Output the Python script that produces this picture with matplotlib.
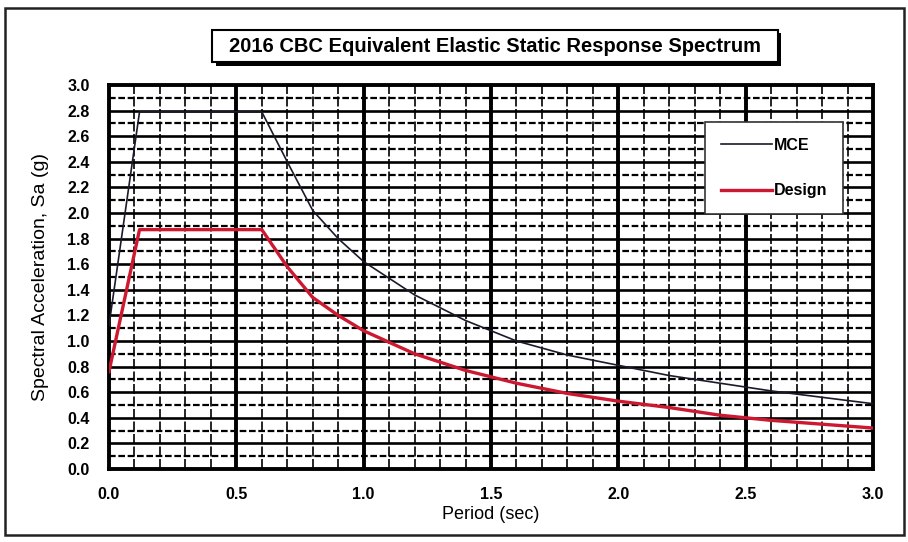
import matplotlib
matplotlib.use('Agg')
import matplotlib.pyplot as plt
from matplotlib.patches import Rectangle

# Data
period = [0.0, 0.12, 0.6, 0.7, 0.8, 0.9, 1.0, 1.2, 1.4, 1.6, 1.8, 2.0, 2.2, 2.4, 2.6, 2.8, 3.0]
mce = [1.12, 2.79, 2.79, 2.40, 2.02, 1.80, 1.62, 1.36, 1.16, 1.00, 0.89, 0.81, 0.73, 0.67, 0.61, 0.56, 0.51]
design = [0.76, 1.87, 1.87, 1.58, 1.34, 1.20, 1.08, 0.90, 0.77, 0.67, 0.59, 0.53, 0.48, 0.42, 0.38, 0.35, 0.32]

x_ticks = [0.0, 0.5, 1.0, 1.5, 2.0, 2.5, 3.0]
y_ticks = [round(0.2 * i, 1) for i in range(16)]

TITLE = '2016 CBC Equivalent Elastic Static Response Spectrum'
FONT = 'Liberation Sans'

plt.rcParams['font.family'] = FONT

fig = plt.figure(figsize=(9.08, 5.42), dpi=100)
ax = fig.add_axes([0.120, 0.1347, 0.8415, 0.7085])

# grid: horizontal every 0.1, verticals every 0.1 with heavy ones at 0.5
for i in range(1, 30):
    y = i * 0.1
    if i % 2:
        ax.axhline(y, color='black', lw=1.6, ls=(0, (3, 1.2)), zorder=1)
    else:
        ax.axhline(y, color='black', lw=1.9, zorder=1)
for i in range(1, 30):
    x = i * 0.1
    if i % 5 == 0:
        ax.axvline(x, color='black', lw=2.8, zorder=1)
    else:
        ax.axvline(x, color='black', lw=1.2, ls=(0, (6, 1.5)), zorder=1)

ax.plot(period, mce, color='#1a1a2a', lw=1.2, label='MCE', zorder=3)
ax.plot(period, design, color='#cc1830', lw=2.4, label='Design', zorder=3)

ax.set_xlim(0, 3.0)
ax.set_ylim(0, 3.0)
ax.set_xticks(x_ticks)
ax.set_xticklabels([f'{v:.1f}' for v in x_ticks])
ax.set_yticks(y_ticks)
ax.set_yticklabels([f'{v:.1f}' for v in y_ticks])
ax.tick_params(length=0, labelsize=11.5)
ax.tick_params(axis='x', pad=13)
ax.tick_params(axis='y', pad=14)
for lbl in ax.get_xticklabels() + ax.get_yticklabels():
    lbl.set_fontweight('bold')
for s in ax.spines.values():
    s.set_linewidth(2.8)

ax.set_xlabel('Period (sec)', fontsize=13, labelpad=3)
ax.set_ylabel('Spectral Acceleration, Sa (g)', fontsize=14, labelpad=13)

leg = ax.legend(loc='upper right', bbox_to_anchor=(0.961, 0.904), frameon=True,
                fancybox=False, edgecolor='#333333', framealpha=1,
                prop={'family': FONT, 'weight': 'bold', 'size': 11.5},
                handlelength=3.2, handletextpad=0.1, labelspacing=1.9,
                borderpad=1.0, borderaxespad=0)
leg.get_frame().set_linewidth(1.2)
leg.set_zorder(5)

# title box with drop shadow
fig.patches.append(Rectangle((0.2375, 0.879), 0.623, 0.060, transform=fig.transFigure,
                             facecolor='black', edgecolor='none', zorder=1))
fig.patches.append(Rectangle((0.2335, 0.8856), 0.623, 0.059, transform=fig.transFigure,
                             facecolor='white', edgecolor='black', lw=1.5, zorder=2))
fig.text(0.545, 0.915, TITLE, ha='center', va='center', fontsize=14.5,
         fontweight='bold', zorder=3)

# outer frame of the scanned page
fig.patches.append(Rectangle((0.006, 0.013), 0.99, 0.972, transform=fig.transFigure,
                             facecolor='none', edgecolor='#222222', lw=1.8))

fig.savefig('out.png', dpi=100)
